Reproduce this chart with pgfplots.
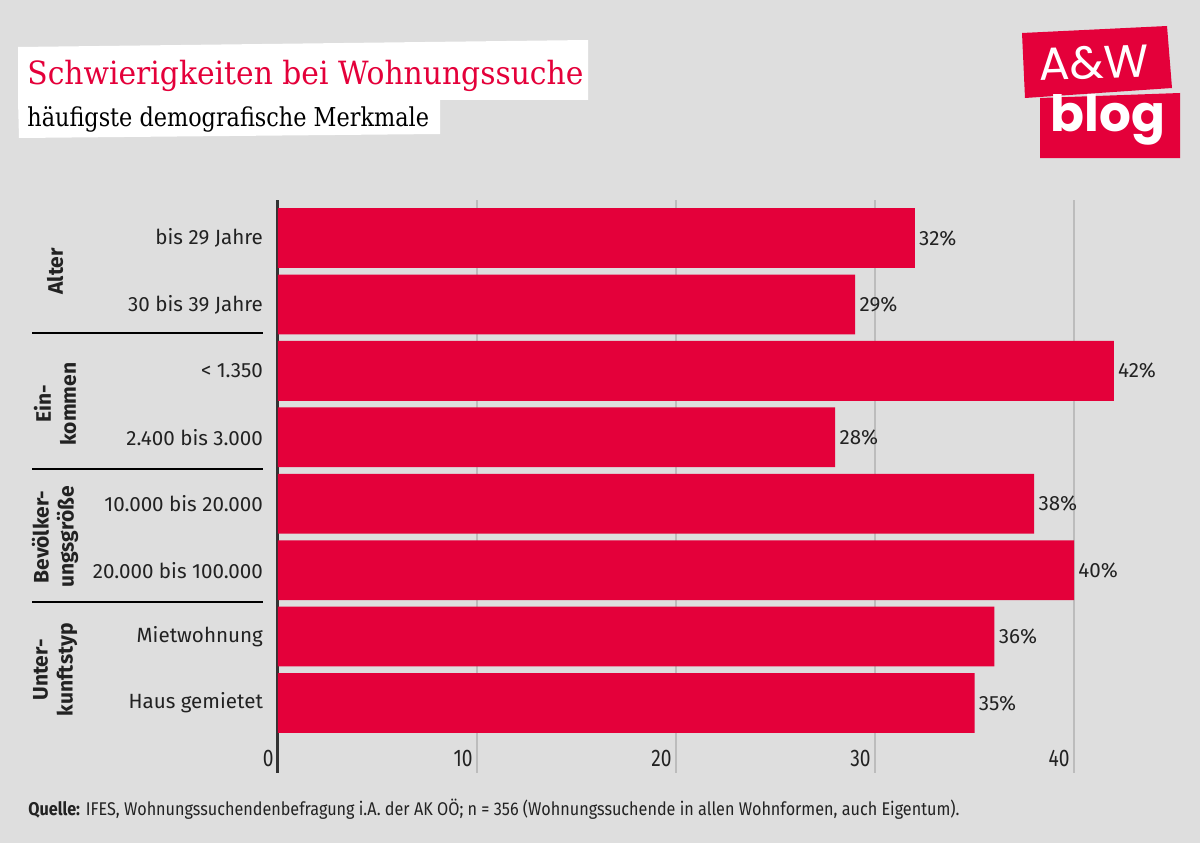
\documentclass[border=0pt]{standalone}
\usepackage{pgfplots}
\pgfplotsset{compat=1.18}
\usepackage{fontspec}
\setmainfont{Fira Sans}
\newfontfamily\titlefont{DejaVu Serif}[FakeStretch=0.93]
\newfontfamily\subfont{DejaVu Serif}[FakeStretch=0.86]
\newfontfamily\condfont{Fira Sans}[FakeStretch=0.88]
\newfontfamily\tickfont{Fira Sans}[FakeStretch=0.8]
\newfontfamily\logofont{Poppins}
\definecolor{bg}{RGB}{222,222,222}
\definecolor{awred}{RGB}{228,0,58}
\definecolor{txt}{RGB}{34,34,34}
\definecolor{gridc}{RGB}{188,188,188}
\definecolor{axc}{RGB}{51,51,51}
\begin{document}
\begin{tikzpicture}
\fill[bg] (0,0) rectangle (600pt,421.5pt);
\useasboundingbox (0,0) rectangle (600pt,421.5pt);
\begin{scope}[x=0.5pt,y=-0.5pt,yshift=421.5pt]
  % title boxes
  \fill[white] (18,47) -- (588,40) -- (588,100) -- (18,100) -- cycle;
  \fill[white] (18,100) -- (440,100) -- (440,134) -- (19,138) -- cycle;
  \node[anchor=base west, inner sep=0, text=awred, font=\titlefont\fontsize{16}{19}\selectfont] at (27,85) {Schwierigkeiten bei Wohnungssuche};
  \node[anchor=base west, inner sep=0, text=black, font=\subfont\fontsize{13}{15}\selectfont] at (27,126) {häufigste demografische Merkmale};
  % logo
  \fill[awred] (1022,33) -- (1167,26) -- (1172,88) -- (1025,98) -- cycle;
  \fill[awred] (1040,98) -- (1180,93) -- (1180,158) -- (1040,158) -- cycle;
  \node[text=white, font=\logofont\fontsize{23}{25}\selectfont, rotate=2] at (1094,63) {A\&W};
  \node[text=white, font=\logofont\bfseries\fontsize{25}{27}\selectfont] at (1108,120) {blog};
  % source
  \node[anchor=base west, inner sep=0, text=txt, font=\condfont\fontsize{9.2}{11}\selectfont] at (28,815) {\textbf{Quelle:} IFES, Wohnungssuchendenbefragung i.A. der AK OÖ; n = 356 (Wohnungssuchende in allen Wohnformen, auch Eigentum).};
\end{scope}
\begin{axis}[
  at={(139pt,35pt)}, anchor=south west,
  scale only axis, width=437.8pt, height=286.5pt,
  xmin=0, xmax=44, ymin=-0.572, ymax=8.054, y dir=reverse,
  axis lines*=left,
  x axis line style={draw=none},
  y axis line style={line width=1.5pt, color=axc},
  xtick={0,10,20,30,40},
  xmajorgrids, grid style={gridc, line width=0.7pt},
  major tick length=0pt,
  /pgf/number format/assume math mode=true,
  xticklabel style={anchor=south east, font=\tickfont\fontsize{12}{13}\selectfont, text=txt, inner sep=2pt, yshift=1pt},
  ytick={0,1,2,3,4,5,6,7},
  yticklabels={bis 29 Jahre, 30 bis 39 Jahre, < 1.350, 2.400 bis 3.000, 10.000 bis 20.000, 20.000 bis 100.000, Mietwohnung, Haus gemietet},
  yticklabel style={font=\fontsize{10.3}{12}\selectfont, text=txt, xshift=-4pt},
  clip=false,
  nodes near coords={\pgfmathprintnumber{\pgfplotspointmeta}\%},
  point meta=x,
  nodes near coords style={anchor=west, inner sep=2pt, font=\fontsize{10.3}{12}\selectfont, text=txt},
]
\addplot[xbar, fill=awred, draw=none, bar width=0.9] coordinates {
(32,0) (29,1) (42,2) (28,3) (38,4) (40,5) (36,6) (35,7)};
\draw[black, line width=0.8pt] (axis cs:-12.34,1.43) -- (axis cs:-0.76,1.43);
\draw[black, line width=0.8pt] (axis cs:-12.34,3.48) -- (axis cs:-0.76,3.48);
\draw[black, line width=0.8pt] (axis cs:-12.34,5.48) -- (axis cs:-0.76,5.48);
\node[rotate=90, align=center, font=\bfseries\fontsize{10.5}{12.5}\selectfont, text=txt] at (axis cs:-11.2,0.5) {Alter};
\node[rotate=90, align=center, font=\bfseries\fontsize{10.5}{12.5}\selectfont, text=txt] at (axis cs:-11.2,2.5) {Ein-\\kommen};
\node[rotate=90, align=center, font=\bfseries\fontsize{10.5}{12.5}\selectfont, text=txt] at (axis cs:-11.2,4.5) {Bevölker-\\ungsgröße};
\node[rotate=90, align=center, font=\bfseries\fontsize{10.5}{12.5}\selectfont, text=txt] at (axis cs:-11.2,6.5) {Unter-\\kunftstyp};
\end{axis}
\end{tikzpicture}
\end{document}
